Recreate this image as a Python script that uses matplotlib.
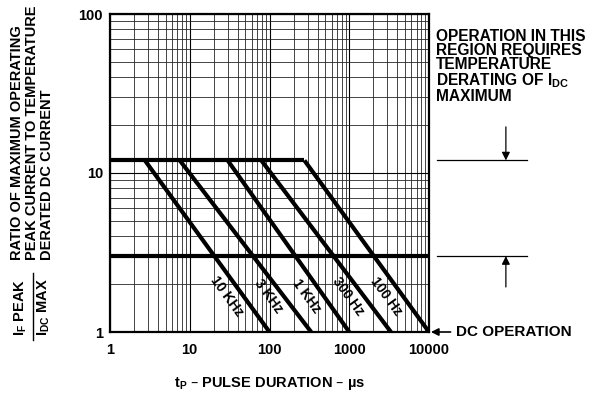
import matplotlib
matplotlib.use("Agg")
import matplotlib.pyplot as plt
import numpy as np

plt.rcParams["font.family"] = ["Liberation Sans", "DejaVu Sans"]
plt.rcParams["font.weight"] = "bold"
plt.rcParams["mathtext.default"] = "regular"

# pulse repetition frequencies and where each derating line starts/ends
freq_labels = ["10 KHz", "3 KHz", "1 KHz", "300 Hz", "100 Hz"]
x_start = [2.74, 7.5, 29.9, 79.0, 274.0]      # µs, at the 12x plateau
x_end = [100.0, 333.0, 1000.0, 3333.0, 10000.0]  # µs, at ratio 1 (DC)
plateau_ratio = 12.0
derate_ratio = 3.0
x_ticks = [1, 10, 100, 1000, 10000]
x_tick_labels = ["1", "10", "100", "1000", "10000"]
y_ticks = [1, 10, 100]
y_tick_labels = ["1", "10", "100"]

W, H = 589, 407
fig = plt.figure(figsize=(W / 100, H / 100), dpi=100)
ax = fig.add_axes([110 / W, 1 - 332 / H, 319 / W, 318 / H])


def px(x, y):
    return x / W, 1 - y / H


ax.set_xscale("log")
ax.set_yscale("log")
ax.set_xlim(1, 10000)
ax.set_ylim(1, 100)

ax.grid(True, which="major", color="k", lw=0.8)
ax.grid(True, which="minor", color="0.15", lw=0.6)
ax.set_axisbelow(True)

lw = 3.0
ax.plot([1, max(x_start)], [plateau_ratio, plateau_ratio], color="k", lw=lw,
        solid_capstyle="butt")
ax.plot([1, 10000], [derate_ratio, derate_ratio], color="k", lw=lw,
        solid_capstyle="butt")
for xs, xe, lab in zip(x_start, x_end, freq_labels):
    ax.plot([xs, xe], [plateau_ratio, 1], color="k", lw=lw, solid_capstyle="butt")
    ax.text(xe * 0.29, 1.68, lab, rotation=-54, ha="center", va="center",
            fontsize=10, fontweight="bold")

ax.set_xticks(x_ticks, x_tick_labels)
ax.set_yticks(y_ticks, y_tick_labels)
ax.tick_params(which="both", length=0)
ax.tick_params(axis="x", pad=8, labelsize=10.5)
ax.tick_params(axis="y", pad=5, labelsize=10.5)
for s in ax.spines.values():
    s.set_linewidth(1.6)

# right-hand annotations
tr = ax.get_yaxis_transform()
ax.text(1.022, 81, "OPERATION IN THIS\nREGION REQUIRES\nTEMPERATURE\n"
        "DERATING OF I$_{DC}$\nMAXIMUM", transform=tr, ha="left", va="top",
        fontsize=11.2, fontweight="bold", linespacing=0.93)
for yv in (plateau_ratio, derate_ratio):
    ax.plot([1.025, 1.307], [yv, yv], color="k", lw=0.9, transform=tr,
            clip_on=False)
ax.annotate("", xy=(1.241, plateau_ratio), xytext=(1.241, 19.5),
            xycoords=tr, textcoords=tr,
            arrowprops=dict(arrowstyle="-|>", color="k", lw=0.9,
                            mutation_scale=12, shrinkA=0, shrinkB=0))
ax.annotate("", xy=(1.241, derate_ratio), xytext=(1.241, 1.92),
            xycoords=tr, textcoords=tr,
            arrowprops=dict(arrowstyle="-|>", color="k", lw=0.9,
                            mutation_scale=12, shrinkA=0, shrinkB=0))
ax.annotate("DC OPERATION", xy=(1.006, 1.0), xytext=(1.085, 1.0),
            xycoords=tr, textcoords=tr, ha="left", va="center",
            fontsize=11, fontweight="bold",
            arrowprops=dict(arrowstyle="-|>", color="k", lw=1.2,
                            mutation_scale=11, shrinkA=2, shrinkB=0))

# axis titles
fig.text(*px(270, 383), "t$_P$ – PULSE DURATION – µs", ha="center",
         va="center", fontsize=10.5, fontweight="bold")
fig.text(*px(32, 260), "RATIO OF MAXIMUM OPERATING\nPEAK CURRENT TO TEMPERATURE\n"
         "DERATED DC CURRENT", rotation=90, ha="center", va="bottom",
         multialignment="left", fontsize=10.5, fontweight="bold", linespacing=1.1)
fig.text(*px(21, 336), "I$_F$ PEAK", rotation=90, ha="center", va="bottom",
         fontsize=10.5, fontweight="bold")
fig.text(*px(44, 336), "I$_{DC}$ MAX", rotation=90, ha="center", va="bottom",
         fontsize=10.5, fontweight="bold")
fig.add_artist(plt.Line2D([33 / W, 33 / W], [1 - 340 / H, 1 - 273 / H],
                          color="k", lw=1.0))

fig.savefig("out.png", dpi=100)
